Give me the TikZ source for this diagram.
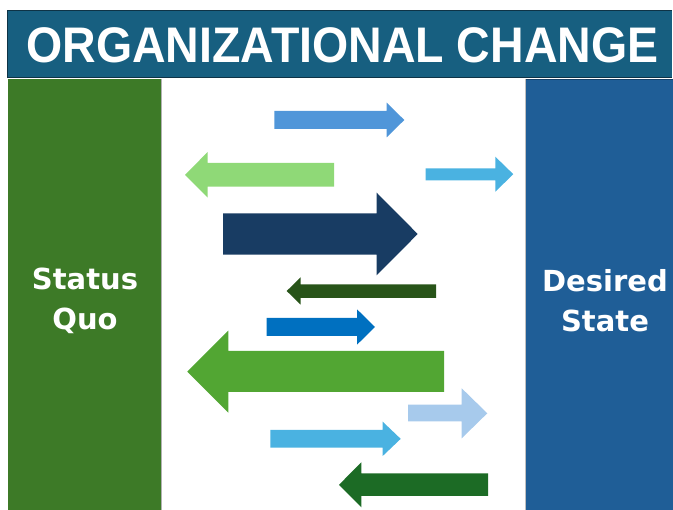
\documentclass[tikz,border=0pt]{standalone}
\usepackage{fontspec}
\setmainfont{Liberation Sans}
\newfontfamily\djv{DejaVu Sans}
\definecolor{titlebg}{HTML}{175F80}
\definecolor{titleln}{HTML}{0E3346}
\definecolor{sqgreen}{HTML}{3D7A27}
\definecolor{dsblue}{HTML}{1F5E97}
\definecolor{aA}{HTML}{5096D9}
\definecolor{aB}{HTML}{8FD977}
\definecolor{aC}{HTML}{4AB2E1}
\definecolor{aD}{HTML}{183C63}
\definecolor{aE}{HTML}{285419}
\definecolor{aF}{HTML}{0070C0}
\definecolor{aG}{HTML}{52A633}
\definecolor{aH}{HTML}{A7CAEC}
\definecolor{aJ}{HTML}{1C6B25}
% #1 colour, #2 tail x, #3 head base x, #4 tip x, #5/#6 shaft y, #7/#8 head y
\newcommand\blockarrow[8]{%
  \fill[#1] (#2,#5) -- (#3,#5) -- (#3,#7) -- (#4,{(#7+#8)/2}) -- (#3,#8) -- (#3,#6) -- (#2,#6) -- cycle;}
\begin{document}
\begin{tikzpicture}[x=1pt,y=-1pt,
  coltext/.style={text=white, font=\djv\bfseries\fontsize{29}{40}\selectfont, align=center}]
\useasboundingbox (0,0) rectangle (673,510);
% title
\fill[titlebg] (7.5,10.5) rectangle (672,77.5);
\draw[titleln, line width=1.2pt] (7.5,10.5) -- (672,10.5) (7.5,10.5) -- (7.5,77.5) -- (672,77.5);
\node[text=white, inner sep=0pt] (title) at (342.5,45)
  {\scalebox{0.93}[1]{\fontsize{50}{55}\selectfont\bfseries ORGANIZATIONAL CHANGE}};
% columns
\fill[sqgreen] (8,79.5) rectangle (161,510);
\draw[gray!60, line width=1pt] (161.5,79.5) -- (161.5,510);
\fill[dsblue] (526,79) rectangle (673,510);
\draw[gray!50, line width=1pt] (525.5,79) -- (525.5,510);
\draw[dsblue!70!black, line width=0.8pt] (526,79) -- (673,79);
\node[coltext] (sq) at (85,301) {Status\\Quo};
\node[coltext] (ds) at (605,301) {Desired\\State};
% arrows
\blockarrow{aA}{274.3}{386.7}{404.3}{111}{129}{102.7}{137.3}
\blockarrow{aB}{334}{207.7}{185}{163}{186.7}{152}{197.7}
\blockarrow{aC}{425.7}{495.3}{513.3}{168.3}{180.3}{156.7}{191.7}
\blockarrow{aD}{223}{376.7}{417.7}{213.3}{254.7}{192.7}{275.3}
\blockarrow{aE}{436}{300.7}{286.7}{284.3}{298}{277.3}{304.7}
\blockarrow{aF}{266.7}{357}{375}{318}{336}{309.3}{344.7}
\blockarrow{aG}{444}{228.3}{187.3}{351}{392}{330.7}{412.7}
\blockarrow{aH}{408}{461.7}{487.3}{404.7}{421.3}{388.3}{438.3}
\blockarrow{aC}{270.3}{382.7}{400.7}{430}{447.7}{421.7}{456}
\blockarrow{aJ}{488}{361.3}{339}{473.3}{496}{462.3}{507.3}
\end{tikzpicture}
\end{document}
